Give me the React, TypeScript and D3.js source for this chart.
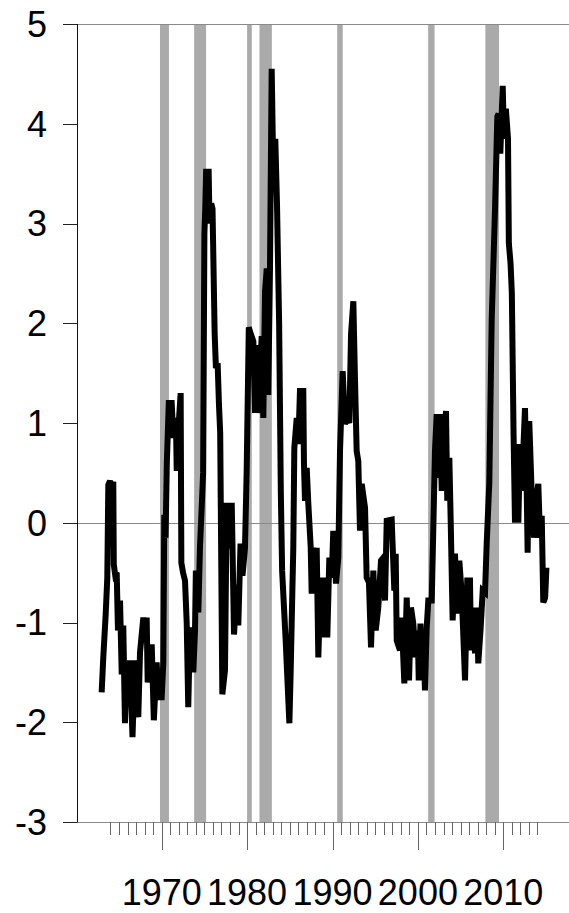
import React from "react";
import * as d3 from "d3";

const dates: number[] = [
  1962.97, 1963.16, 1963.44, 1963.63, 1963.75, 1963.95, 1964.1, 1964.33, 1964.39, 1964.55,
  1964.73, 1964.88, 1965.12, 1965.32, 1965.5, 1965.7, 1965.9, 1966.1, 1966.29, 1966.58,
  1966.87, 1967.05, 1967.26, 1967.46, 1967.85, 1968.05, 1968.24, 1968.36, 1968.63, 1968.83,
  1969.08, 1969.41, 1969.6, 1970.0, 1970.19, 1970.3, 1970.45, 1970.6, 1970.83, 1971.17,
  1971.36, 1971.55, 1971.67, 1971.76, 1972.0, 1972.22, 1972.3, 1972.5, 1972.73, 1972.93,
  1973.11, 1973.31, 1973.51, 1973.7, 1973.9, 1974.0, 1974.29, 1974.48, 1974.68, 1974.85,
  1975.0, 1975.1, 1975.2, 1975.5, 1975.6, 1975.8, 1975.95, 1976.2, 1976.35, 1976.55,
  1976.7, 1976.85, 1977.1, 1977.41, 1977.61, 1977.92, 1978.2, 1978.47, 1978.78, 1978.97,
  1979.23, 1979.46, 1979.75, 1979.95, 1980.2, 1980.4, 1980.73, 1980.93, 1981.12, 1981.31,
  1981.71, 1981.9, 1982.1, 1982.3, 1982.48, 1982.68, 1982.88, 1983.05, 1983.3, 1983.5,
  1983.75, 1983.95, 1984.1, 1984.5, 1984.95, 1985.1, 1985.3, 1985.41, 1985.53, 1985.81,
  1986.0, 1986.19, 1986.58, 1986.66, 1986.78, 1986.98, 1987.17, 1987.45, 1987.56, 1987.75,
  1987.95, 1988.15, 1988.34, 1988.62, 1988.92, 1989.12, 1989.39, 1989.63, 1989.91, 1990.09,
  1990.41, 1990.68, 1990.88, 1991.19, 1991.46, 1991.73, 1991.97, 1992.17, 1992.44, 1992.63,
  1992.83, 1993.02, 1993.22, 1993.42, 1993.81, 1994.0, 1994.27, 1994.51, 1994.78, 1995.06,
  1995.36, 1995.68, 1995.95, 1996.15, 1996.35, 1996.93, 1997.24, 1997.4, 1997.52, 1997.9,
  1998.1, 1998.41, 1998.69, 1998.96, 1999.19, 1999.46, 1999.74, 1999.98, 2000.1, 2000.3,
  2000.44, 2000.63, 2000.83, 2001.03, 2001.22, 2001.62, 2002.0, 2002.2, 2002.39, 2002.59,
  2002.79, 2002.97, 2003.29, 2003.44, 2003.68, 2003.84, 2004.07, 2004.34, 2004.61, 2004.85,
  2005.13, 2005.52, 2005.78, 2006.1, 2006.22, 2006.49, 2006.69, 2006.89, 2007.07, 2007.35,
  2007.59, 2007.86, 2008.06, 2008.36, 2008.64, 2009.03, 2009.3, 2009.45, 2009.65, 2009.93,
  2010.08, 2010.3, 2010.55, 2010.65, 2010.85, 2011.0, 2011.2, 2011.37, 2011.57, 2011.76,
  2011.96, 2012.15, 2012.54, 2012.74, 2012.85, 2013.04, 2013.33, 2013.6, 2013.91, 2014.1,
  2014.3, 2014.5, 2014.68, 2014.9, 2015.05,
];

const values: number[] = [
  -1.7, -1.35, -0.92, -0.55, 0.38, 0.42, 0.36, 0.41, -0.42, -0.52,
  -0.5, -1.08, -0.78, -1.52, -1.03, -2.01, -1.4, -1.6, -1.38, -2.15,
  -1.38, -1.62, -1.95, -1.3, -0.95, -1.1, -0.95, -1.6, -1.4, -1.22,
  -1.98, -1.4, -1.75, -1.75, -1.4, 0.08, -0.15, 0.6, 1.2, 1.2,
  0.85, 1.05, 1.0, 0.52, 1.0, 1.3, -0.4, -0.5, -0.58, -1.01,
  -1.85, -1.05, -1.15, -1.5, -1.08, -0.48, -0.9, -0.25, 0.15, 0.5,
  2.9, 3.15, 3.52, 3.52, 3.0, 3.2, 3.15, 1.9, 1.55, 1.6,
  1.2, 0.9, -1.72, -1.48, 0.2, -0.26, 0.2, -1.12, -0.62, -1.03,
  -0.21, -0.53, -0.26, 0.52, 1.96, 1.9, 1.82, 1.1, 1.78, 1.1,
  1.87, 1.05, 2.32, 2.55, 1.28, 2.55, 4.55, 3.6, 3.85, 3.2,
  2.0, 0.3, -0.48, -1.15, -2.01, -1.5, -0.68, -0.25, 0.75, 1.05,
  0.79, 1.32, 1.32, 0.59, 0.22, 0.55, 0.19, -0.25, -0.71, -0.25,
  -0.71, -0.25, -1.35, -0.55, -1.15, -0.55, -1.15, -0.35, -0.55, -0.08,
  -0.61, -0.35, 0.72, 1.52, 0.99, 1.05, 1.0, 1.89, 2.22, 1.45,
  0.72, 0.62, -0.08, 0.39, 0.15, -0.55, -0.6, -1.25, -0.48, -1.08,
  -0.85, -0.38, -0.35, -0.78, 0.02, 0.03, -0.68, -0.31, -1.18, -1.28,
  -0.95, -1.61, -0.75, -1.58, -0.85, -1.01, -1.35, -1.08, -1.58, -1.01,
  -1.51, -1.08, -1.68, -1.05, -0.78, -0.78, 0.72, 1.09, 0.45, 1.09,
  0.32, 0.65, 1.12, 0.22, 0.65, 0.02, -0.98, -0.31, -0.91, -0.38,
  -0.71, -1.58, -0.58, -0.58, -1.28, -0.85, -1.31, -0.85, -1.41, -1.05,
  -0.68, -0.7, -0.2, 0.4, 2.03, 3.14, 4.07, 4.1, 3.7, 4.38,
  3.85, 4.15, 3.85, 2.8, 2.6, 2.3, 0.9, 0.0, 0.79, 0.0,
  0.79, 0.32, 1.15, 0.35, -0.3, 1.02, 0.28, -0.15, 0.28, 0.39,
  -0.15, 0.07, -0.8, -0.75, -0.45,
];

const recessionStarts: number[] = [1969.8, 1973.8, 1980.0, 1981.45, 1990.55, 2001.2, 2007.9];
const recessionEnds: number[] = [1970.85, 1975.2, 1980.55, 1982.9, 1991.2, 2001.95, 2009.5];

const yTicks: number[] = [-3, -2, -1, 0, 1, 2, 3, 4, 5];
const yRuleTicks: number[] = [-3, 0, 5];
const xMinorTicks: number[] = d3.range(1964, 2015);
const xMajorTicks: number[] = [1970, 1980, 1990, 2000, 2010];

export default function App() {
  const W = 569;
  const H = 913;
  const x = d3.scaleLinear().domain([1970, 2010]).range([161.7, 503.3]);
  const y = d3.scaleLinear().domain([-3, 5]).range([822, 24]);
  const axisX = 77.5;
  const tickLeft = 63;
  const font = "'Liberation Sans', Arial, Helvetica, sans-serif";

  const points: [number, number][] = dates.map((d, i) => [d, values[i]]);
  const line = d3
    .line<[number, number]>()
    .x((d) => x(d[0]))
    .y((d) => y(d[1]));

  return (
    <svg
      width={W}
      height={H}
      style={{ position: "absolute", left: 0, top: 0, background: "#fff" }}
    >
      <rect x={0} y={0} width={W} height={H} fill="#fff" />
      {recessionStarts.map((s, i) => (
        <rect
          key={"r" + i}
          x={x(s)}
          y={y(5)}
          width={x(recessionEnds[i]) - x(s)}
          height={y(-3) - y(5)}
          fill="#aaaaaa"
        />
      ))}
      {yRuleTicks.map((t) => (
        <line
          key={"g" + t}
          x1={tickLeft}
          x2={W}
          y1={Math.round(y(t)) + 0.5}
          y2={Math.round(y(t)) + 0.5}
          stroke="#8a8a8a"
          strokeWidth={1}
        />
      ))}
      {yTicks.map((t) => (
        <line
          key={"yt" + t}
          x1={tickLeft}
          x2={axisX}
          y1={Math.round(y(t)) + 0.5}
          y2={Math.round(y(t)) + 0.5}
          stroke="#222"
          strokeWidth={1}
        />
      ))}
      <line x1={axisX} x2={axisX} y1={y(5)} y2={y(-3)} stroke="#111" strokeWidth={1} />
      {yTicks.map((t) => (
        <text
          key={"yl" + t}
          x={47}
          y={y(t)}
          dy="0.36em"
          textAnchor="end"
          fontFamily={font}
          fontSize={36}
          fill="#000"
        >
          {t}
        </text>
      ))}
      {xMinorTicks.map((t) => (
        <line
          key={"xm" + t}
          x1={Math.round(x(t)) + 0.5}
          x2={Math.round(x(t)) + 0.5}
          y1={y(-3)}
          y2={xMajorTicks.includes(t) ? 850 : 835}
          stroke="#666"
          strokeWidth={1}
        />
      ))}
      {xMajorTicks.map((t) => (
        <text
          key={"xl" + t}
          x={x(t)}
          y={905}
          textAnchor="middle"
          fontFamily={font}
          fontSize={36}
          fill="#000"
        >
          {t}
        </text>
      ))}
      <path
        d={line(points) || ""}
        fill="none"
        stroke="#000"
        strokeWidth={6}
        strokeLinejoin="miter"
        strokeMiterlimit={3}
      />
    </svg>
  );
}
